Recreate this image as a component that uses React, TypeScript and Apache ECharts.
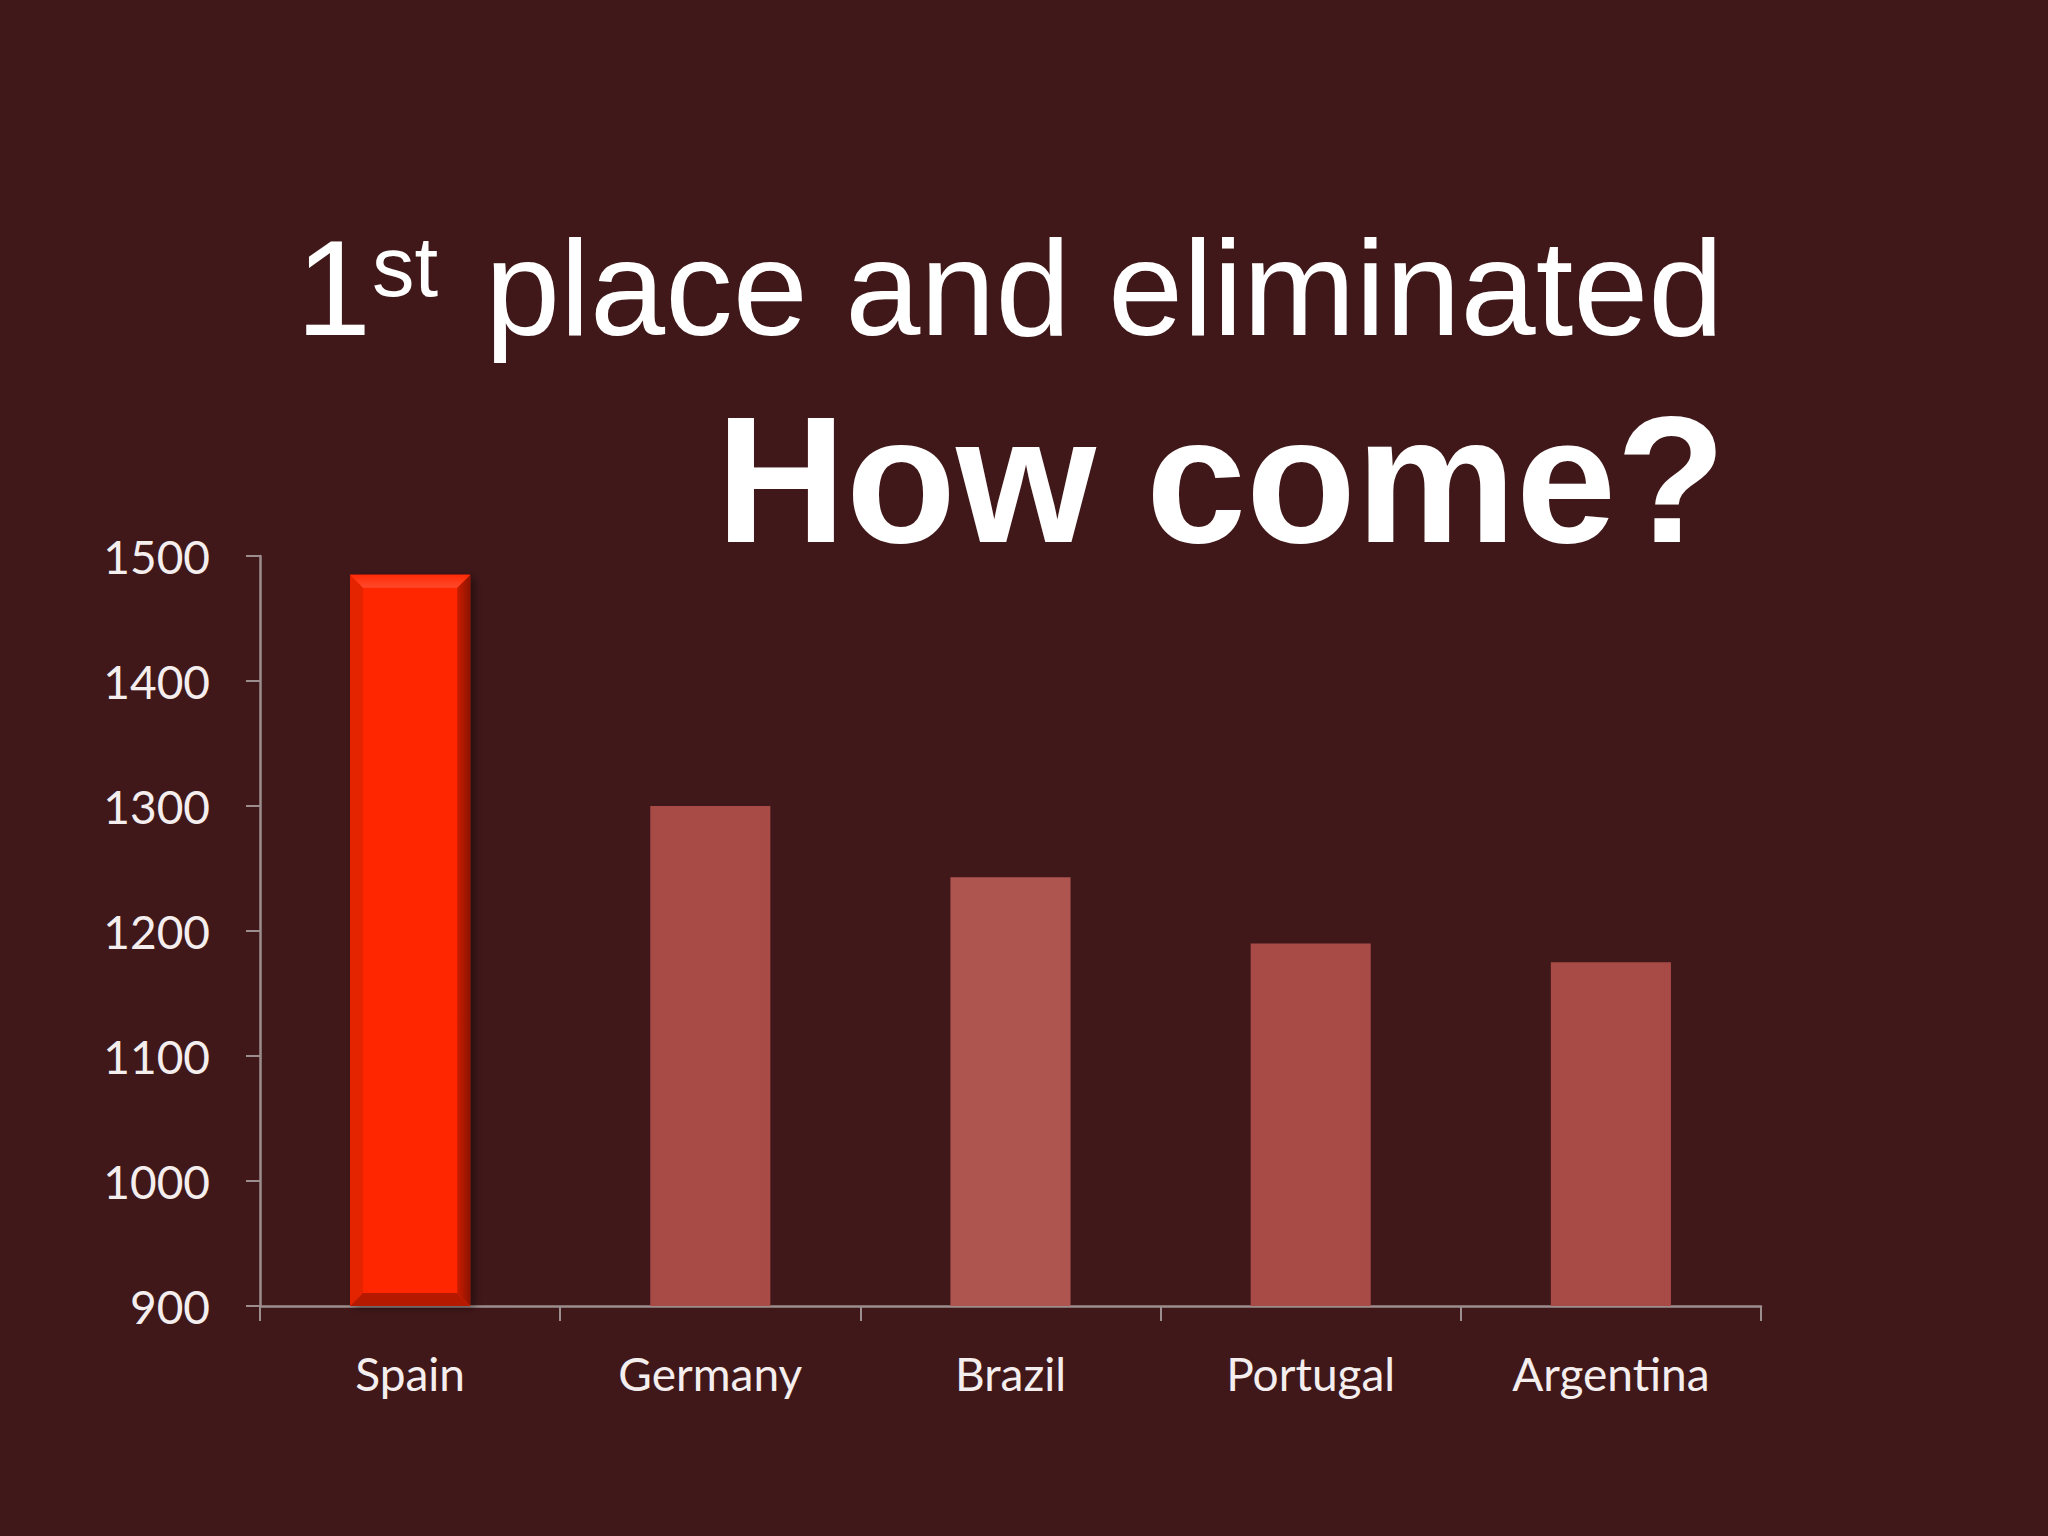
import React, { useEffect, useRef } from "react";
import * as echarts from "echarts";

const categories = ["Spain", "Germany", "Brazil", "Portugal", "Argentina"];
const values = [1485, 1300, 1243, 1190, 1175];
const barColors = ["#FF2600", "#A84A45", "#AF5550", "#A84A45", "#A84A45"];
const yMin = 900;
const yMax = 1500;
const yStep = 100;
const highlightIndex = 0;

const BG = "#41181A";

export default function App() {
  const ref = useRef<HTMLDivElement>(null);
  useEffect(() => {
    if (!ref.current) return;
    const chart = echarts.init(ref.current, null, { renderer: "svg" });
    const data = values.map((v, i) => ({
      value: v,
      itemStyle:
        i === highlightIndex
          ? {
              color: barColors[i],
              shadowColor: "rgba(0,0,0,0.45)",
              shadowBlur: 10,
              shadowOffsetX: 4,
              shadowOffsetY: 2,
            }
          : { color: barColors[i] },
    }));
    chart.setOption({
      animation: false,
      backgroundColor: BG,
      grid: { left: 260, right: 287, top: 556, bottom: 230, containLabel: false },
      xAxis: {
        type: "category",
        data: categories,
        axisLine: { lineStyle: { color: "#9C8E8E", width: 2.5 } },
        axisTick: { show: true, length: 15, lineStyle: { color: "#9C8E8E", width: 2 } },
        axisLabel: {
          color: "#F4EEEE",
          fontFamily: "Lato",
          fontSize: 46,
          margin: 44,
        },
      },
      yAxis: {
        type: "value",
        min: yMin,
        max: yMax,
        interval: yStep,
        splitLine: { show: false },
        axisLine: { show: true, lineStyle: { color: "#9C8E8E", width: 2.5 } },
        axisTick: { show: true, length: 14, lineStyle: { color: "#9C8E8E", width: 2 } },
        axisLabel: {
          color: "#F4EEEE",
          fontFamily: "Lato",
          fontSize: 46,
          margin: 50,
          formatter: (v: number) => String(v),
        },
      },
      series: [
        {
          type: "bar",
          data,
          barWidth: "40%",
        },
        {
          type: "custom",
          data: [[highlightIndex, values[highlightIndex]]],
          z: 5,
          renderItem: (params: any, api: any) => {
            const top = api.coord([api.value(0), api.value(1)]);
            const bot = api.coord([api.value(0), yMin]);
            const w = api.size([1, 0])[0] * 0.4;
            const x0 = top[0] - w / 2;
            const x1 = top[0] + w / 2;
            const yt = top[1];
            const yb = bot[1];
            const b = 13;
            return {
              type: "group",
              children: [
                {
                  type: "polygon",
                  shape: { points: [[x0, yt], [x0 + b, yt + b], [x0 + b, yb - b], [x0, yb]] },
                  style: { fill: "#E42300" },
                },
                {
                  type: "polygon",
                  shape: { points: [[x1, yt], [x1 - b, yt + b], [x1 - b, yb - b], [x1, yb]] },
                  style: {
                    fill: new echarts.graphic.LinearGradient(0, 0, 1, 0, [
                      { offset: 0, color: "#C81C00" },
                      { offset: 1, color: "#8E1300" },
                    ]),
                  },
                },
                {
                  type: "polygon",
                  shape: { points: [[x0, yt], [x1, yt], [x1 - b, yt + b], [x0 + b, yt + b]] },
                  style: {
                    fill: new echarts.graphic.LinearGradient(0, 0, 0, 1, [
                      { offset: 0, color: "#FF2A05" },
                      { offset: 1, color: "#FF4A2C" },
                    ]),
                  },
                },
                {
                  type: "polygon",
                  shape: { points: [[x0, yb], [x1, yb], [x1 - b, yb - b], [x0 + b, yb - b]] },
                  style: { fill: "#B51A00" },
                },
              ],
            };
          },
        },
      ],
      graphic: [
        {
          type: "text",
          x: 296,
          y: 288,
          style: {
            text: "1",
            fill: "#FFFFFF",
            font: "135px 'Liberation Sans', Arial, sans-serif",
            textAlign: "left",
            textVerticalAlign: "middle",
          },
        },
        {
          type: "text",
          x: 372,
          y: 266,
          style: {
            text: "st",
            fill: "#FFFFFF",
            font: "85px 'Liberation Sans', Arial, sans-serif",
            textAlign: "left",
            textVerticalAlign: "middle",
          },
        },
        {
          type: "text",
          x: 485,
          y: 288,
          style: {
            text: "place and eliminated",
            fill: "#FFFFFF",
            font: "135px 'Liberation Sans', Arial, sans-serif",
            textAlign: "left",
            textVerticalAlign: "middle",
          },
        },
        {
          type: "text",
          x: 1221,
          y: 479,
          style: {
            text: "How come?",
            fill: "#FFFFFF",
            font: "bold 180px 'Liberation Sans', Arial, sans-serif",
            textAlign: "center",
            textVerticalAlign: "middle",
          },
        },
      ],
    });
    return () => chart.dispose();
  }, []);
  return (
    <div
      ref={ref}
      style={{ position: "fixed", left: 0, top: 0, width: 2048, height: 1536 }}
    />
  );
}
